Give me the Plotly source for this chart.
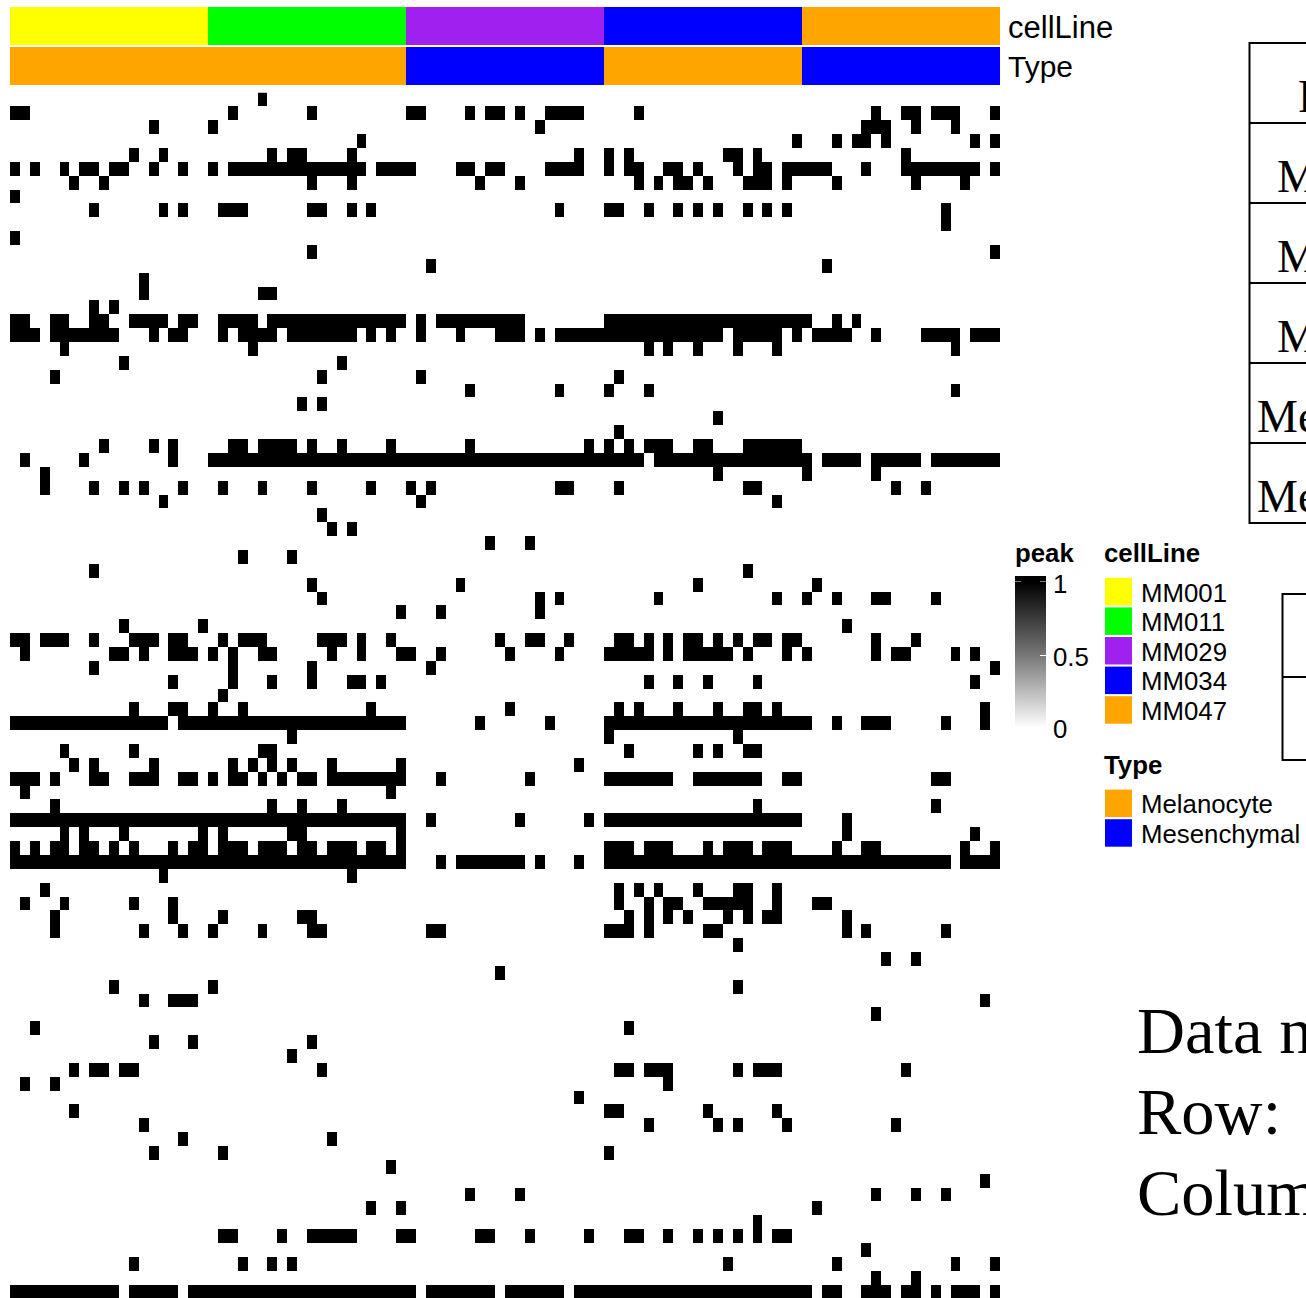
import plotly.graph_objects as go

W, H = 1306, 1298

# Active (peak = 1) column indices per row, top to bottom; "a-b" is an inclusive run.
peak_rows = [
    "25",
    "0,1,22,30,40,41,46,48,49,51,54-57,63,87,90,91,93,94,95,99",
    "14,20,53,86,87,88,91,95",
    "35,79,83,85,86,88,97,99",
    "12,15,26,28,29,34,57,60,62,72,73,75,90",
    "0,2,5,7,8,10,11,14,17,20,22-35,37-40,45,46,48,49,54-57,60,62,63,66,67,69,73,75,76,78-82,86,90-97,99",
    "6,9,30,34,47,51,63,65,67,68,70,74,75,76,78,83,91,96",
    "0",
    "8,15,17,21,22,23,30,31,34,36,55,60,61,64,67,69,71,74,76,78,94",
    "94",
    "0",
    "30,99",
    "42,82",
    "13",
    "13,25,26",
    "8,10",
    "0,1,4,5,8,9,12-15,17,18,21-24,26-39,41,43-51,60-80,83,85",
    "0-2,4-10,14,16,17,21,23-26,28-34,36,38,41,45,49,50,51,53,55-71,73-77,79,81-84,87,92-95,97-99",
    "5,24,64,66,69,73,77,95",
    "11,33",
    "4,31,41,61",
    "46,55,60,64,95",
    "29,31",
    "71",
    "61",
    "9,14,16,22,23,25-28,30,33,38,46,58,60,62,64,65,66,69,70,74-79",
    "1,7,16,20-63,65-80,82-85,87-91,93-99",
    "3,71,80,87",
    "3,8,11,13,17,21,25,30,36,40,42,55,56,61,74,75,89,92",
    "15,41,77",
    "31",
    "32,34",
    "48,52",
    "23,28",
    "8,74",
    "30,45,69,81",
    "31,53,55,65,77,80,83,87,88,93",
    "39,43,53",
    "11,19,84",
    "0,1,3,4,5,8,12,13,14,16,17,21,23,24,25,31,32,33,35,38,49,52,53,56,61,62,64,66,68,69,71,73,75,76,78,79,87,91",
    "1,10,11,13,16,17,18,20,22,25,26,32,35,39,40,43,50,55,60-64,66,68-72,74,78,80,87,89,90,95,97",
    "8,22,30,42,99",
    "16,22,26,30,34,35,37,64,67,70,75,97",
    "21",
    "12,16,17,20,23,36,50,61,63,67,71,74,75,77,98",
    "0-15,17-39,47,54,60-80,83,86,87,88,94,98",
    "28,60,73",
    "5,12,25,26,62,69,71,74,75",
    "6,8,14,22,24,26,28,32,39,57",
    "0,1,2,4,8,9,12,13,14,17,18,20,22,23,25,27,29,30,32-39,43,52,60-66,69-75,78,79,93,94",
    "1,38",
    "4,26,29,33,75,93",
    "0-39,42,51,58,60-79,84",
    "5,7,11,19,21,28,29,39,84,97",
    "0,2,4,5,7,8,10,12,16,18,19,21,22,23,25,26,27,29,30,32,33,34,36,37,39,60,61,62,64,65,66,70,72,73,74,76,77,78,83,86,87,96,99",
    "0-39,43,45-51,53,57,60-94,96-99",
    "15,34",
    "3,61,63,65,69,73,74,77",
    "1,5,12,16,61,64,66,67,70-74,77,81,82",
    "4,16,21,29,30,62,64,66,68,72,74,76,77,84",
    "4,13,17,20,25,30,31,42,43,60,61,62,64,70,71,84,86,94",
    "73",
    "88,91",
    "49",
    "10,20,73",
    "13,16,17,18,98",
    "87",
    "2,62",
    "14,18,30",
    "28",
    "6,8,9,11,12,31,61,62,64,65,66,73,75,76,77,90",
    "1,4,66",
    "57",
    "6,60,61,70,77",
    "13,64,71,73,78,89",
    "17,32",
    "14,21,60",
    "38",
    "98",
    "46,51,87,91,94",
    "36,39,81",
    "75",
    "21,22,27,30-34,39,40,47,48,52,58,62,63,66,69,71,73,75,77,78",
    "86",
    "12,23,26,28,72,83,95,99",
    "87,91",
    "0-10,12-16,18-40,42-48,50-55,57-80,82,83,86,87,88,90,91,93,95,96,97,99",
]

n_cols = 100
cell_lines = ["MM001", "MM011", "MM029", "MM034", "MM047"]
cell_line_colors = ["#FFFF00", "#00FF00", "#A020F0", "#0000FF", "#FFA500"]
cell_line_counts = [20, 20, 20, 20, 20]
types = ["Melanocyte", "Mesenchymal"]
type_colors = ["#FFA500", "#0000FF"]
type_runs = [(0, 40), (1, 20), (0, 20), (1, 20)]
peak_ticks = [0, 0.5, 1]
peak_tick_labels = ["0", "0.5", "1"]

table_labels = ["Peak", "MM001", "MM011", "MM029", "Mesenchymal", "Melanocyte"]
note_lines = ["Data normalization", "Row:", "Column"]


def parse(spec):
    out = [0] * n_cols
    for part in spec.split(","):
        if "-" in part:
            a, b = part.split("-")
            for c in range(int(a), int(b) + 1):
                out[c] = 1
        else:
            out[int(part)] = 1
    return out


peak_z = [parse(s) for s in peak_rows]
cell_z = [[i for i, n in enumerate(cell_line_counts) for _ in range(n)]]
type_z = [[i for i, n in type_runs for _ in range(n)]]


def px(x):
    return x / W


def py(y):
    return 1 - y / H


def discrete(colors):
    n = len(colors)
    scale = []
    for i, c in enumerate(colors):
        scale += [[i / n, c], [(i + 1) / n, c]]
    return scale


fig = go.Figure()
fig.add_trace(go.Heatmap(
    z=peak_z, xaxis="x", yaxis="y", zmin=0, zmax=1, xgap=0, ygap=0, hoverinfo="skip",
    colorscale=[[0, "#FFFFFF"], [0.5, "#777777"], [1, "#000000"]],
    colorbar=dict(
        x=px(1015), xanchor="left", xref="paper",
        y=py(582), yanchor="top", yref="paper",
        len=146, lenmode="pixels", thickness=31, thicknessmode="pixels",
        xpad=0, ypad=0, outlinewidth=0, borderwidth=0,
        tickmode="array", tickvals=peak_ticks, ticktext=peak_tick_labels,
        ticks="inside", tickcolor="#FFFFFF", ticklen=6, tickwidth=1,
        showticklabels=False,
    ),
))
fig.add_trace(go.Heatmap(
    z=cell_z, xaxis="x", yaxis="y2", zmin=-0.5, zmax=4.5, showscale=False, hoverinfo="skip",
    colorscale=discrete(cell_line_colors),
))
fig.add_trace(go.Heatmap(
    z=type_z, xaxis="x", yaxis="y3", zmin=-0.5, zmax=1.5, showscale=False, hoverinfo="skip",
    colorscale=discrete(type_colors),
))

shapes = []
annotations = []


def rect(x0, y0, x1, y1, color):
    shapes.append(dict(type="rect", xref="paper", yref="paper", x0=px(x0), x1=px(x1),
                       y0=py(y0), y1=py(y1), fillcolor=color, line=dict(width=0), layer="above"))


def line(x0, y0, x1, y1, width=2, color="#000000"):
    shapes.append(dict(type="line", xref="paper", yref="paper", x0=px(x0), x1=px(x1),
                       y0=py(y0), y1=py(y1), line=dict(color=color, width=width), layer="above"))


def text(x, y, s, size=25.8, family="Liberation Sans", bold=False, anchor="middle"):
    annotations.append(dict(
        xref="paper", yref="paper", x=px(x), y=py(y), text=f"<b>{s}</b>" if bold else s,
        showarrow=False, xanchor="left", yanchor=anchor, borderpad=0, borderwidth=0,
        font=dict(family=family, size=size, color="#000000"), align="left"))


# top annotation labels
text(1008, 27.5, "cellLine", size=31)
text(1008, 67, "Type", size=30)

# colour bar extras
rect(1015, 576, 1046, 582.5, "#000000")
for v_y in (582, 655):
    line(1015, v_y, 1021, v_y, width=1, color="#FFFFFF")
rect(1040, 581.5, 1046, 582.5, "#FFFFFF")
text(1015, 553, "peak", bold=True)
for v_y, s in zip((729, 657, 584), peak_tick_labels):
    text(1052.5, v_y, s)

# legends
text(1104, 553, "cellLine", bold=True)
for i, (name, color) in enumerate(zip(cell_lines, cell_line_colors)):
    y0 = 577.8 + i * 29.6
    rect(1105, y0, 1132, y0 + 27.5, color)
    text(1141, y0 + 14.7, name)
text(1104, 765, "Type", bold=True)
for i, (name, color) in enumerate(zip(types, type_colors)):
    y0 = 789.6 + i * 29.6
    rect(1105, y0, 1132, y0 + 27.5, color)
    text(1141, y0 + 14.7, name)

# right-hand table, running past the page edge
table_y = [43, 123, 203, 283, 363, 443, 523]
line(1249.5, 42, 1249.5, 524)
for y in table_y:
    line(1249, y, 1306, y)
table_x = [1298, 1277, 1277, 1277, 1257, 1257]
for x, y, s in zip(table_x, table_y[1:], table_labels):
    text(x, y - 1, s, size=46, family="Liberation Serif", anchor="bottom")

# second table
line(1282.5, 593, 1282.5, 761)
for y in (594, 677, 760):
    line(1282, y, 1306, y)

# note lines
for y, s in zip((1067, 1148, 1229), note_lines):
    text(1137, y, s, size=66.5, family="Liberation Serif", anchor="bottom")

fig.update_layout(
    width=W, height=H, autosize=False,
    margin=dict(l=0, r=0, t=0, b=0, pad=0),
    paper_bgcolor="#FFFFFF", plot_bgcolor="#FFFFFF",
    showlegend=False,
    xaxis=dict(domain=[px(10), px(1000)], range=[-0.5, n_cols - 0.5], visible=False, fixedrange=True),
    yaxis=dict(domain=[py(1298), py(92.5)], range=[len(peak_rows) - 0.53, -0.5], visible=False, fixedrange=True),
    yaxis2=dict(domain=[py(45), py(7)], range=[-0.5, 0.5], visible=False, fixedrange=True),
    yaxis3=dict(domain=[py(85), py(47)], range=[-0.5, 0.5], visible=False, fixedrange=True),
    shapes=shapes, annotations=annotations,
)

fig.write_html(
    "out.html",
    config={"displayModeBar": False},
    post_script="document.body.style.margin='0';document.documentElement.style.overflow='hidden';",
)
